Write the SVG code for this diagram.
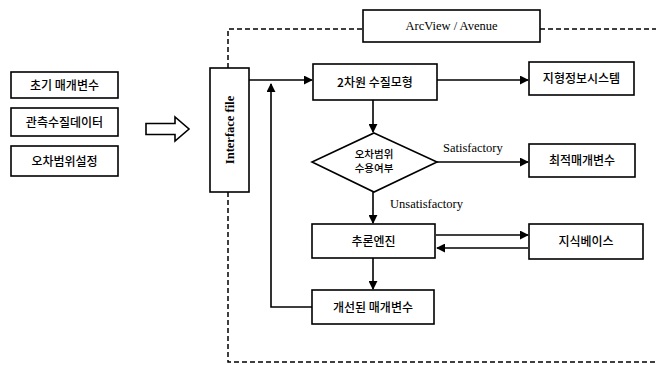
<svg xmlns="http://www.w3.org/2000/svg" width="656" height="365" viewBox="0 0 656 365">
  <defs>
    <marker id="arrow" viewBox="0 0 10 10" refX="9" refY="5" markerWidth="9" markerHeight="9" markerUnits="userSpaceOnUse" orient="auto">
      <path d="M0,0 L10,5 L0,10 z" fill="#000"/>
    </marker>
    <style>
      .box { fill: #fff; stroke: #000; stroke-width: 1.6; }
      .ko { font-family: "Noto Sans CJK KR", "Noto Sans", sans-serif; font-size: 12px; font-weight: 500; fill: #000; text-anchor: middle; }
      .ko-sm { font-size: 10.5px; }
      .en { font-family: "Liberation Serif", "Times New Roman", serif; font-size: 12.5px; fill: #000; }
      .line { fill: none; stroke: #000; stroke-width: 1.6; }
      .dash { fill: none; stroke: #000; stroke-width: 1.5; stroke-dasharray: 5 3; }
    </style>
  </defs>

  <!-- ArcView / Avenue boundary -->
  <g id="boundary">
    <path class="dash" d="M228,68 V29 H363"/>
    <path class="dash" d="M540,29 H656"/>
    <path class="dash" d="M228,192 V362 H656"/>
  </g>

  <g id="arcview">
    <rect class="box" x="363" y="10" width="177" height="32"/>
    <text class="en" x="451.5" y="30" text-anchor="middle">ArcView / Avenue</text>
  </g>

  <!-- input nodes -->
  <g id="init-params">
    <rect class="box" x="11" y="72" width="107" height="26"/>
    <text class="ko" x="64.5" y="89.5">초기 매개변수</text>
  </g>
  <g id="obs-data">
    <rect class="box" x="11" y="108" width="107" height="28"/>
    <text class="ko" x="64.5" y="126.5">관측수질데이터</text>
  </g>
  <g id="error-range">
    <rect class="box" x="11" y="146" width="107" height="30"/>
    <text class="ko" x="64.5" y="165.5">오차범위설정</text>
  </g>

  <g id="input-arrow">
    <path d="M146,123.5 H175 V117 L189,129 L175,141 V134.5 H146 Z" fill="#fff" stroke="#000" stroke-width="1.6"/>
  </g>

  <g id="interface-file">
    <rect class="box" x="210" y="68" width="39" height="124"/>
    <text class="en" x="0" y="0" text-anchor="middle" font-weight="bold" transform="translate(233.5,130) rotate(-90)">Interface file</text>
  </g>

  <g id="wq-model">
    <rect class="box" x="313" y="64" width="124" height="36"/>
    <text class="ko" x="375" y="86.5">2차원 수질모형</text>
  </g>

  <g id="gis">
    <rect class="box" x="529" y="62" width="105" height="33"/>
    <text class="ko" x="581.5" y="83">지형정보시스템</text>
  </g>

  <g id="decision">
    <polygon class="box" points="374,133 437,162 374,192 312,162"/>
    <text class="ko ko-sm" x="374" y="158">오차범위</text>
    <text class="ko ko-sm" x="374" y="172">수용여부</text>
  </g>

  <g id="optimal-params">
    <rect class="box" x="529" y="144" width="106" height="33"/>
    <text class="ko" x="582" y="165">최적매개변수</text>
  </g>

  <g id="inference">
    <rect class="box" x="312" y="224" width="123" height="34"/>
    <text class="ko" x="373.5" y="245.5">추론엔진</text>
  </g>

  <g id="knowledge-base">
    <rect class="box" x="529" y="224" width="114" height="35"/>
    <text class="ko" x="586" y="246">지식베이스</text>
  </g>

  <g id="improved-params">
    <rect class="box" x="312" y="290" width="122" height="34"/>
    <text class="ko" x="373" y="311.5">개선된 매개변수</text>
  </g>

  <!-- connectors -->
  <g id="connectors">
    <path class="line" d="M249,80 H312" marker-end="url(#arrow)"/>
    <path class="line" d="M437,80 H528" marker-end="url(#arrow)"/>
    <path class="line" d="M373,100 V132" marker-end="url(#arrow)"/>
    <path class="line" d="M437,162 H528" marker-end="url(#arrow)"/>
    <path class="line" d="M373,192 V223" marker-end="url(#arrow)"/>
    <path class="line" d="M436,235 H528" marker-end="url(#arrow)"/>
    <path class="line" d="M528,248 H437" marker-end="url(#arrow)"/>
    <path class="line" d="M373,258 V289" marker-end="url(#arrow)"/>
    <path class="line" d="M312,307 H271 V84" marker-end="url(#arrow)"/>
    <text class="en" x="443" y="152">Satisfactory</text>
    <text class="en" x="390" y="208">Unsatisfactory</text>
  </g>
</svg>
